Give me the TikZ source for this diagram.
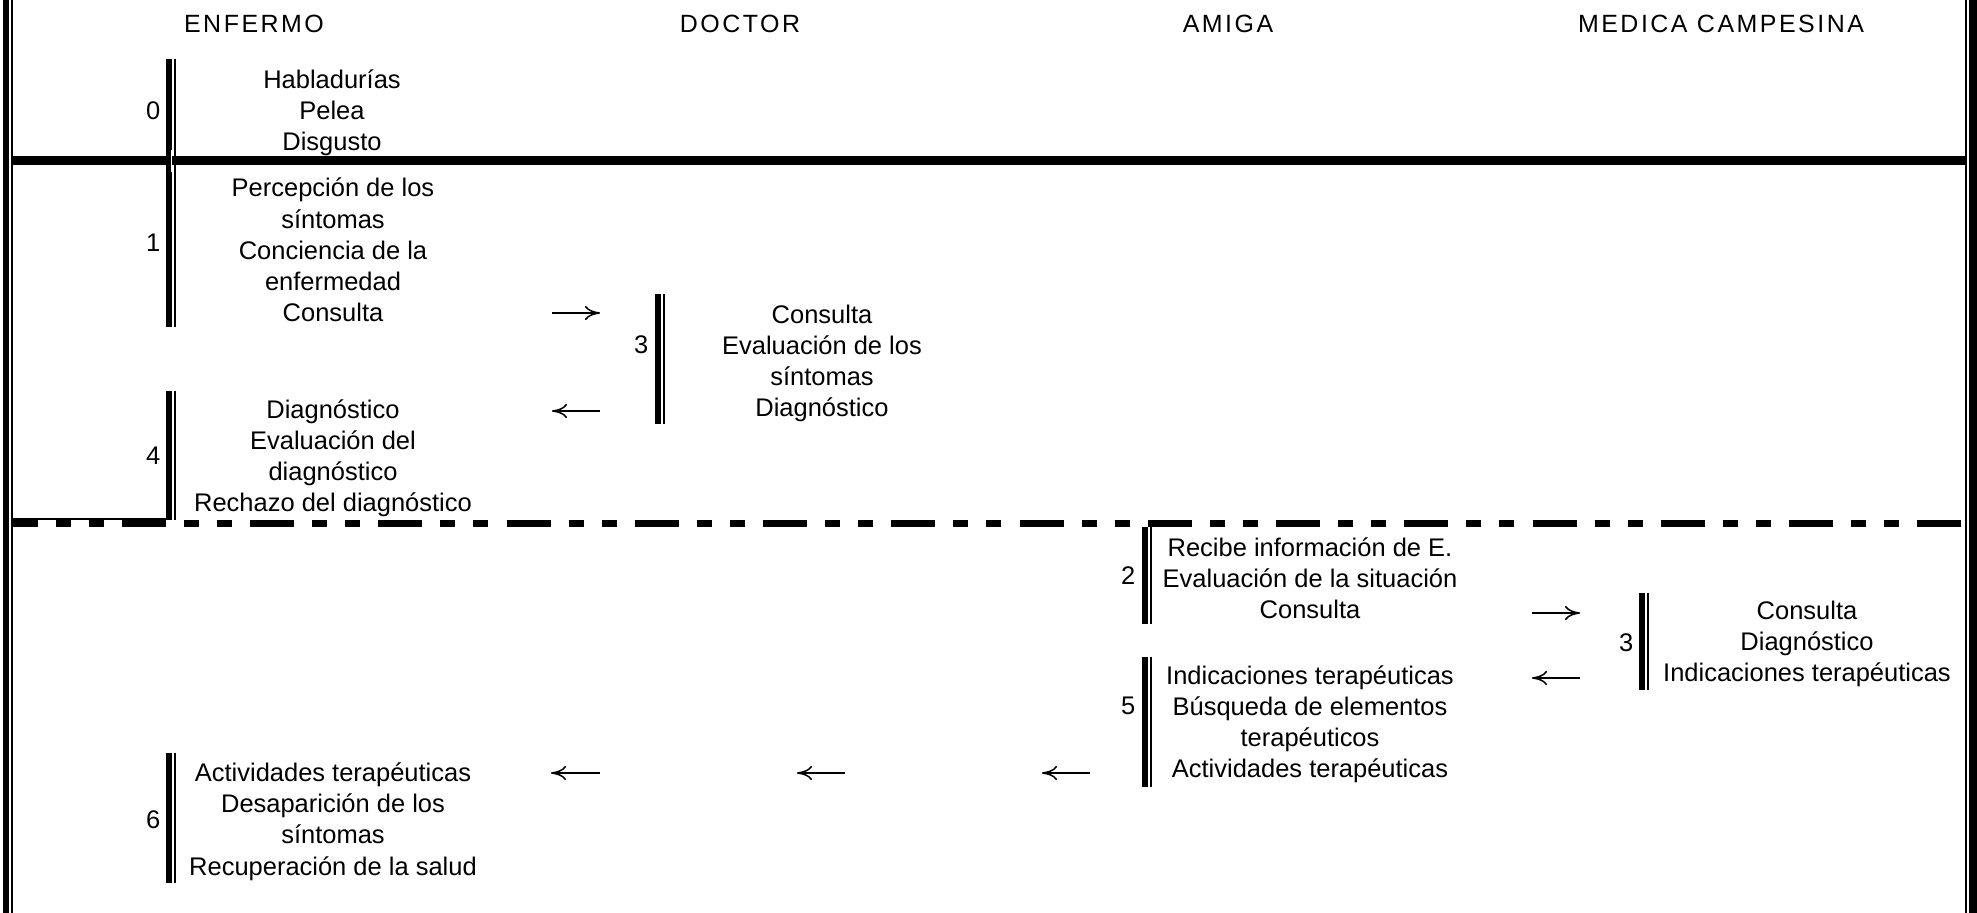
\documentclass[tikz,border=0pt]{standalone}
\usepackage{fontspec}
\setmainfont{Liberation Sans}
\newfontfamily\headfont[LetterSpace=10]{Liberation Sans}
\usepackage{tikz}
\usetikzlibrary{arrows.meta}

\begin{document}
\begin{tikzpicture}[
            header/.style={font=\headfont\fontsize{7.1}{8.5}\selectfont, inner sep=0pt, anchor=base},
            entry/.style={font=\fontsize{7.25}{8.9}\selectfont, align=center, inner sep=0pt, anchor=base},
            stage/.style={font=\fontsize{7.25}{8.9}\selectfont, inner sep=0pt, anchor=east},
            barthick/.style={line width=0.06cm},
            barthin/.style={line width=0.02cm},
            arrow/.style={line width=0.015cm, -{To[length=1.5mm,width=1.4mm]}}
        ]
            \useasboundingbox (0,0) rectangle (19.77,-9.13);

            % Frame and separators
            \draw[barthick] (0.06,0) -- (0.06,-9.13);
            \draw[barthin] (0.12,0) -- (0.12,-9.13);
            \draw[barthin] (19.66,0) -- (19.66,-9.13);
            \draw[line width=0.08cm] (19.73,0) -- (19.73,-9.13);
            \draw[line width=0.09cm] (0.13,-1.61) -- (19.65,-1.61);
            \draw[line width=0.07cm, dash pattern=on 0.44cm off 0.18cm on 0.15cm off 0.18cm on 0.15cm off 0.1825cm, dash phase=0.1925cm] (0.13,-5.235) -- (19.65,-5.235);
            \draw[barthin] (0.13,-5.19) -- (1.66,-5.19);

            % Column titles
            \node[header] (enfermo) at (2.54,-0.33) {ENFERMO};
            \node[header] (doctor) at (7.40,-0.33) {DOCTOR};
            \node[header] (amiga) at (12.28,-0.33) {AMIGA};
            \node[header] (medica) at (17.21,-0.33) {MEDICA CAMPESINA};

            % Enfermo, stages 0 and 1 (nodes sit on their last line)
            \draw[barthick] (1.69,-0.59) -- (1.69,-3.27);
            \draw[barthin] (1.745,-0.59) -- (1.745,-3.27);
            \draw[white, line width=0.012cm] (1.7175,-1.50) -- (1.7175,-1.72);
            \node[stage] (nzero) at (1.61,-1.11) {0};
            \node[entry] (enfzero) at (3.32,-1.51) {Habladurías\\Pelea\\Disgusto};
            \node[stage] (none) at (1.61,-2.43) {1};
            \node[entry] (enfone) at (3.33,-3.22) {Percepción de los\\síntomas\\Conciencia de la\\enfermedad\\Consulta};

            % Doctor, stage 3
            \draw[barthick] (6.58,-2.94) -- (6.58,-4.24);
            \draw[barthin] (6.635,-2.94) -- (6.635,-4.24);
            \node[stage] (ndoc) at (6.49,-3.45) {3};
            \node[entry] (docthree) at (8.22,-4.17) {Consulta\\Evaluación de los\\síntomas\\Diagnóstico};

            % Enfermo, stage 4
            \draw[barthick] (1.69,-3.91) -- (1.69,-5.20);
            \draw[barthin] (1.745,-3.91) -- (1.745,-5.20);
            \node[stage] (nfour) at (1.61,-4.56) {4};
            \node[entry] (enffour) at (3.33,-5.12) {Diagnóstico\\Evaluación del\\diagnóstico\\Rechazo del diagnóstico};

            % Amiga, stage 2
            \draw[barthick] (11.45,-5.27) -- (11.45,-6.24);
            \draw[barthin] (11.505,-5.27) -- (11.505,-6.24);
            \node[stage] (ntwo) at (11.36,-5.76) {2};
            \node[entry] (amigatwo) at (13.10,-6.19) {Recibe información de E.\\Evaluación de la situación\\Consulta};

            % Medica campesina, stage 3
            \draw[barthick] (16.42,-5.93) -- (16.42,-6.90);
            \draw[barthin] (16.475,-5.93) -- (16.475,-6.90);
            \node[stage] (nmed) at (16.34,-6.43) {3};
            \node[entry] (medthree) at (18.07,-6.82) {Consulta\\Diagnóstico\\Indicaciones terapéuticas};

            % Amiga, stage 5
            \draw[barthick] (11.45,-6.57) -- (11.45,-7.87);
            \draw[barthin] (11.505,-6.57) -- (11.505,-7.87);
            \node[stage] (nfive) at (11.36,-7.06) {5};
            \node[entry] (amigafive) at (13.10,-7.78) {Indicaciones terapéuticas\\Búsqueda de elementos\\terapéuticos\\Actividades terapéuticas};

            % Enfermo, stage 6
            \draw[barthick] (1.69,-7.53) -- (1.69,-8.83);
            \draw[barthin] (1.745,-7.53) -- (1.745,-8.83);
            \node[stage] (nsix) at (1.61,-8.20) {6};
            \node[entry] (enfsix) at (3.33,-8.75) {Actividades terapéuticas\\Desaparición de los\\síntomas\\Recuperación de la salud};

            % Arrow ends
            \coordinate (consA) at (5.52,-3.13);
            \coordinate (consB) at (6.00,-3.13);
            \coordinate (diagA) at (6.00,-4.11);
            \coordinate (diagB) at (5.52,-4.11);
            \coordinate (medA) at (15.32,-6.13);
            \coordinate (medB) at (15.80,-6.13);
            \coordinate (indA) at (15.80,-6.78);
            \coordinate (indB) at (15.32,-6.78);
            \coordinate (actA) at (10.90,-7.73);
            \coordinate (actB) at (10.42,-7.73);
            \coordinate (actC) at (8.45,-7.73);
            \coordinate (actD) at (7.97,-7.73);
            \coordinate (actE) at (6.00,-7.73);
            \coordinate (actF) at (5.51,-7.73);

            % Arrows
            \draw[arrow] (consA) -- (consB);
            \draw[arrow] (diagA) -- (diagB);
            \draw[arrow] (medA) -- (medB);
            \draw[arrow] (indA) -- (indB);
            \draw[arrow] (actA) -- (actB);
            \draw[arrow] (actC) -- (actD);
            \draw[arrow] (actE) -- (actF);

        \end{tikzpicture}
\end{document}
